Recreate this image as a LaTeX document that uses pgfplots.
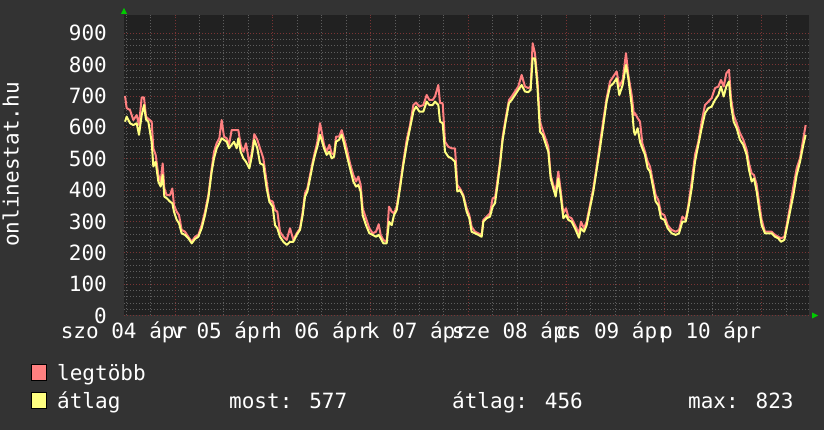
\documentclass[border=0pt]{standalone}
\usepackage{pgfplots}
\pgfplotsset{compat=1.18}
\usepackage{pgfplotstable}
\usepackage{fontspec}
\setmainfont{DejaVu Sans Mono}

\definecolor{backc}{HTML}{333333}
\definecolor{canvasc}{HTML}{212121}
\definecolor{minorgrid}{HTML}{5E5E5E}
\definecolor{majorgrid}{HTML}{7A3434}
\definecolor{maxc}{HTML}{FF8080}
\definecolor{avgc}{HTML}{FFFF80}
\definecolor{arrowc}{HTML}{00CC00}

% h = hours from the left edge of the graph, max = legtöbb, avg = átlag
\pgfplotstableread{
h max avg
0.25 700 618
0.66 661 634
1.47 655 613
2.29 623 607
3.11 639 613
3.68 607 576
4.34 695 639
4.91 695 671
5.40 634 625
5.97 627 618
6.79 618 554
7.20 533 475
7.77 512 490
8.43 448 427
9.00 427 411
9.49 485 448
9.90 405 379
10.47 384 374
11.29 384 363
11.86 405 358
12.27 352 331
12.93 331 305
13.50 320 294
14.15 273 262
14.97 267 257
15.79 251 246
16.61 235 230
17.42 251 244
18.24 257 251
19.06 288 278
19.88 331 320
20.70 384 374
21.52 469 459
22.09 522 501
22.74 549 533
23.40 565 549
23.97 623 565
24.54 570 560
25.20 565 554
25.77 544 533
26.42 591 544
26.99 591 554
27.65 591 533
28.06 591 565
28.63 544 522
29.29 522 501
29.94 549 490
30.76 485 469
31.33 517 505
31.98 578 560
32.72 560 533
33.38 533 485
34.19 501 480
35.01 427 405
35.67 368 363
36.48 363 347
37.06 336 288
37.63 331 278
38.28 267 251
39.10 251 235
39.92 241 225
40.74 278 235
41.56 241 235
42.38 262 257
43.19 278 273
43.85 331 320
44.42 390 379
45.00 405 395
45.65 448 437
46.30 490 480
46.87 522 512
47.45 554 538
48.10 613 576
48.51 586 560
49.08 544 533
49.74 522 512
50.39 544 522
50.97 517 501
51.54 512 506
52.03 570 554
52.76 570 560
53.42 591 576
53.99 565 549
54.65 533 512
55.46 485 469
56.28 448 427
56.94 427 411
57.51 443 416
58.08 416 395
58.57 342 320
59.39 310 288
60.21 278 262
61.03 262 257
61.84 267 251
62.50 291 257
62.99 257 246
63.64 241 230
64.46 235 230
65.03 347 299
65.69 331 288
66.26 326 320
66.92 347 336
67.73 416 405
68.55 490 480
69.37 560 544
70.19 607 597
71.01 671 650
71.66 679 666
72.48 666 650
73.46 671 650
74.28 703 682
74.93 687 671
75.75 687 671
76.32 698 682
77.14 735 671
77.55 677 618
78.20 677 613
78.78 554 522
79.59 538 506
80.41 533 501
81.23 533 490
81.80 416 395
82.45 405 400
83.27 384 379
84.09 342 331
84.74 320 310
85.31 283 267
86.13 267 262
86.95 262 257
87.77 257 251
88.18 305 299
88.99 315 310
89.81 326 315
90.47 374 347
91.04 374 358
91.61 427 411
92.27 490 480
92.92 570 560
93.66 629 618
94.47 687 677
95.13 698 687
95.95 714 703
96.76 730 719
97.58 767 735
98.40 730 714
99.22 725 712
99.79 730 719
100.28 868 820
100.85 836 820
101.43 756 735
102.08 618 586
102.74 591 576
103.55 560 544
104.13 538 522
104.70 448 437
105.35 416 405
105.93 395 379
106.58 459 437
107.15 400 384
107.81 326 310
108.46 342 320
109.04 315 305
109.85 310 299
110.67 288 278
111.65 262 248
112.14 299 278
112.88 278 267
113.53 299 288
114.35 352 342
115.17 405 395
115.99 475 464
116.81 549 533
117.62 623 607
118.44 693 682
119.26 746 730
120.08 762 740
120.90 778 756
121.55 730 703
122.37 751 735
123.19 836 799
123.76 767 756
124.58 703 671
125.15 639 586
125.40 645 576
126.05 629 597
126.63 618 554
127.20 549 533
127.85 522 512
128.51 490 469
129.08 475 459
129.90 421 405
130.47 384 363
131.13 368 352
131.78 326 310
132.60 320 305
133.42 288 278
134.40 273 262
135.38 267 257
136.20 273 262
137.02 315 299
137.83 305 299
138.49 352 342
139.31 427 405
140.12 512 490
140.94 554 544
141.76 618 597
142.58 671 645
143.40 682 661
144.21 693 666
145.03 725 687
145.85 730 703
146.50 751 730
147.16 730 698
147.81 772 730
148.47 783 746
148.96 693 671
149.61 639 618
150.35 613 597
151.17 581 560
151.98 560 544
152.80 528 512
153.38 485 464
154.03 453 427
154.60 448 437
155.26 416 395
155.83 363 342
156.48 305 288
157.30 267 262
158.12 267 262
158.94 267 262
159.76 257 251
160.57 251 246
161.23 246 235
162.05 251 241
162.62 288 278
163.44 347 331
164.26 411 384
165.07 469 448
165.89 501 490
166.71 565 544
167.28 607 576
}\online

\newcommand{\chartfont}{\fontsize{21}{25}\selectfont}

\begin{document}
\begin{tikzpicture}[font=\chartfont]
% 1pt here = 1px of the 824x430 image, origin at bottom left
\fill[backc] (0,0) rectangle (824pt,430pt);
\begin{axis}[
  at={(124pt,114.5pt)}, anchor=south west,
  scale only axis, width=685pt, height=300.5pt,
  xmin=0, xmax=168.1, ymin=0, ymax=958,
  axis background/.style={fill=canvasc},
  axis line style={draw=none},
  major tick length=0pt, minor tick length=0pt,
  xtick={0,24,...,144},
  xticklabels={szo 04 ápr,v 05 ápr,h 06 ápr,k 07 ápr,sze 08 ápr,cs 09 ápr,p 10 ápr},
  minor xtick={0.5,6.5,18.5,24.5,30.5,42.5,48.5,54.5,66.5,72.5,78.5,90.5,96.5,102.5,114.5,120.5,126.5,138.5,144.5,150.5,162.5},
  xminorgrids,
  extra x ticks={12.5,36.5,60.5,84.5,108.5,132.5,156.5},
  extra x tick labels={},
  extra x tick style={grid=major},
  ytick={0,100,...,900},
  yticklabels={0,100,200,300,400,500,600,700,800,900},
  minor y tick num=4,
  ymajorgrids, yminorgrids,
  major grid style={majorgrid, line width=0.8pt, dash pattern=on 1pt off 2pt},
  minor grid style={minorgrid, line width=0.8pt, dash pattern=on 1pt off 2pt},
  tick label style={font=\chartfont, text=white, inner sep=0pt},
  xticklabel style={anchor=base, yshift=-23.5pt},
  yticklabel style={anchor=east, xshift=-17pt},
]
\addplot[maxc, line width=2pt, line join=round] table[x=h, y=max] {\online};
\addplot[avgc, line width=2pt, line join=round] table[x=h, y=avg] {\online};
\end{axis}
% axis arrows
\fill[arrowc] (121pt,416pt) -- (127pt,416pt) -- (124pt,422pt) -- cycle;
\fill[arrowc] (812pt,111.5pt) -- (812pt,117.5pt) -- (818pt,114.5pt) -- cycle;
% vertical title
\node[rotate=90, anchor=base, inner sep=0pt, text=white] at (18.5pt,265.5pt) {onlinestat.hu};
% legend
\filldraw[fill=maxc, draw=black, line width=1pt] (31pt,49pt) rectangle (46pt,65pt);
\filldraw[fill=avgc, draw=black, line width=1pt] (31pt,21pt) rectangle (46pt,37pt);
\node[anchor=base west, inner sep=0pt, text=white] at (57pt,49pt) {legtöbb};
\node[anchor=base west, inner sep=0pt, text=white] at (57pt,21pt) {átlag};
\node[anchor=base west, inner sep=0pt, text=white] at (229pt,21pt) {most: 577};
\node[anchor=base west, inner sep=0pt, text=white] at (452pt,21pt) {átlag: 456};
\node[anchor=base west, inner sep=0pt, text=white] at (688pt,21pt) {max: 823};
\pgfresetboundingbox
\path[use as bounding box] (0,0) rectangle (824pt,430pt);
\end{tikzpicture}
\end{document}
